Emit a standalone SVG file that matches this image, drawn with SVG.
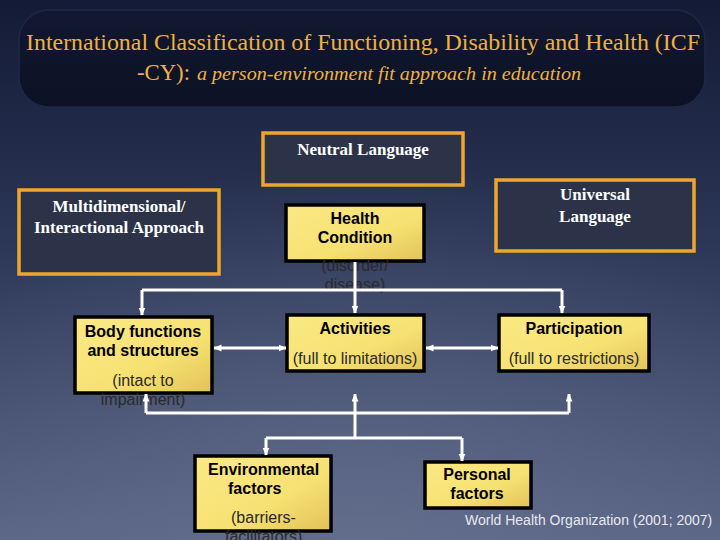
<svg xmlns="http://www.w3.org/2000/svg" width="720" height="540" viewBox="0 0 720 540">
<defs>
<linearGradient id="bg" x1="0" y1="0" x2="0" y2="1">
<stop offset="0" stop-color="#131b36"/>
<stop offset="0.45" stop-color="#2c3656"/>
<stop offset="1" stop-color="#5a6484"/>
</linearGradient>
<radialGradient id="glow" cx="0.5" cy="1" r="0.7">
<stop offset="0" stop-color="#6a7492" stop-opacity="0.55"/>
<stop offset="1" stop-color="#6a7492" stop-opacity="0"/>
</radialGradient>
<linearGradient id="yel" x1="0" y1="0" x2="1" y2="1">
<stop offset="0" stop-color="#fbe985"/>
<stop offset="0.6" stop-color="#f6e172"/>
<stop offset="1" stop-color="#e2c257"/>
</linearGradient>
<linearGradient id="tb" x1="0" y1="0" x2="0" y2="1">
<stop offset="0" stop-color="#111830"/>
<stop offset="1" stop-color="#0c1224"/>
</linearGradient>
<marker id="ah" markerUnits="userSpaceOnUse" markerWidth="8" markerHeight="8" refX="7.5" refY="3.5" orient="auto-start-reverse">
<path d="M0,0 L8,3.5 L0,7 z" fill="#ffffff"/>
</marker>
<style>
.dark{fill:#2c3349;stroke:#eea62c;stroke-width:3.5}
.yb{fill:url(#yel);stroke:#000;stroke-width:3.5}
.tw{font-family:"Liberation Serif","Times New Roman",serif;font-weight:bold;font-size:17px;fill:#ffffff;text-anchor:middle}
.tb{font-family:"Liberation Sans",Arial,sans-serif;font-weight:bold;font-size:16px;fill:#000;text-anchor:middle}
.tn{font-family:"Liberation Sans",Arial,sans-serif;font-size:16px;fill:#2a2a2a;text-anchor:middle}
.ln{fill:none;stroke:#ffffff;stroke-width:3}
.title{font-family:"Liberation Serif","Times New Roman",serif;fill:#f0b040}
</style>
</defs>
<rect x="0" y="0" width="720" height="540" fill="url(#bg)"/>
<rect x="0" y="0" width="720" height="540" fill="url(#glow)"/>

<g id="title">
<rect x="19" y="10" width="686" height="97" rx="30" ry="30" fill="url(#tb)" stroke="#1f2848" stroke-width="1.5"/>
<text class="title" x="26" y="50" font-size="24" textLength="674" lengthAdjust="spacingAndGlyphs">International Classification of Functioning, Disability and Health (ICF</text>
<text class="title" x="137" y="80" font-size="24" textLength="53" lengthAdjust="spacingAndGlyphs">-CY):</text>
<text class="title" x="197" y="80" font-size="19" font-style="italic" textLength="384" lengthAdjust="spacingAndGlyphs">a person-environment fit approach in education</text>
</g>

<g id="neutral">
<rect class="dark" x="263" y="133" width="200" height="52"/>
<text class="tw" x="363" y="155">Neutral Language</text>
</g>

<g id="multi">
<rect class="dark" x="19" y="190" width="200" height="84"/>
<text class="tw" x="119" y="212">Multidimensional/</text>
<text class="tw" x="119" y="233">Interactional Approach</text>
</g>

<g id="universal">
<rect class="dark" x="496" y="180" width="198" height="71"/>
<text class="tw" x="595" y="200">Universal</text>
<text class="tw" x="595" y="222">Language</text>
</g>

<g id="health">
<rect class="yb" x="286" y="205" width="138" height="56"/>
<text class="tb" x="355" y="224">Health</text>
<text class="tb" x="355" y="243">Condition</text>
<text class="tn" x="355" y="271">(disorder/</text>
<text class="tn" x="355" y="290">disease)</text>
</g>

<g id="body">
<rect class="yb" x="75" y="317" width="137" height="76"/>
<text class="tb" x="143" y="337">Body functions</text>
<text class="tb" x="143" y="356">and structures</text>
<text class="tn" x="143" y="386">(intact to</text>
<text class="tn" x="143" y="405">impairment)</text>
</g>

<g id="activities">
<rect class="yb" x="287" y="315" width="137" height="56"/>
<text class="tb" x="355" y="334">Activities</text>
<text class="tn" x="355" y="364">(full to limitations)</text>
</g>

<g id="participation">
<rect class="yb" x="499" y="315" width="150" height="56"/>
<text class="tb" x="574" y="334">Participation</text>
<text class="tn" x="574" y="364">(full to restrictions)</text>
</g>

<g id="environmental">
<rect class="yb" x="195" y="456" width="136" height="75"/>
<text class="tb" x="208" y="475" style="text-anchor:start">Environmental</text>
<text class="tb" x="228" y="494" style="text-anchor:start">factors</text>
<text class="tn" x="231" y="523" style="text-anchor:start">(barriers-</text>
<text class="tn" x="225" y="542" style="text-anchor:start">facilitators)</text>
</g>

<g id="personal">
<rect class="yb" x="425" y="462" width="106" height="46"/>
<text class="tb" x="477" y="480">Personal</text>
<text class="tb" x="477" y="499">factors</text>
</g>

<g id="connectors">
<path class="ln" d="M355,262 V290"/>
<path class="ln" d="M142,290 H562"/>
<path class="ln" d="M142,290 V315" marker-end="url(#ah)"/>
<path class="ln" d="M355,290 V313" marker-end="url(#ah)"/>
<path class="ln" d="M562,290 V313" marker-end="url(#ah)"/>
<path class="ln" d="M214,348 H286" marker-start="url(#ah)" marker-end="url(#ah)"/>
<path class="ln" d="M426,348 H498" marker-start="url(#ah)" marker-end="url(#ah)"/>
<path class="ln" d="M146,413 H569"/>
<path class="ln" d="M146,413 V394" marker-end="url(#ah)"/>
<path class="ln" d="M355,413 V394" marker-end="url(#ah)"/>
<path class="ln" d="M569,413 V394" marker-end="url(#ah)"/>
<path class="ln" d="M355,413 V438"/>
<path class="ln" d="M266,438 H462"/>
<path class="ln" d="M266,438 V455" marker-end="url(#ah)"/>
<path class="ln" d="M462,438 V461" marker-end="url(#ah)"/>
</g>

<g id="credit">
<text x="465" y="525" font-family="'Liberation Sans',Arial,sans-serif" font-size="14" fill="#e6e8f0">World Health Organization (2001; 2007)</text>
</g>
</svg>
